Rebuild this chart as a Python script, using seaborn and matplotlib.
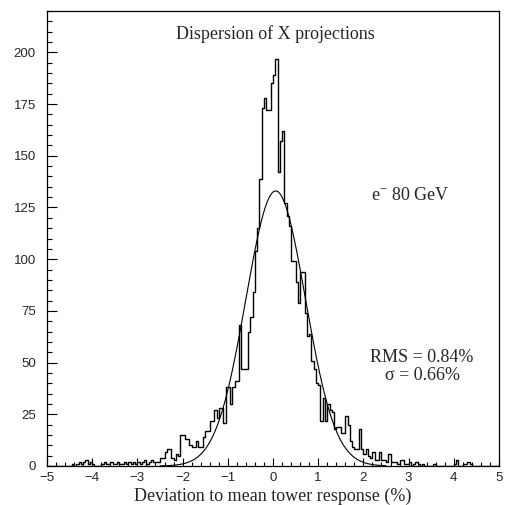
import numpy as np
import pandas as pd
import matplotlib
matplotlib.use("Agg")
import matplotlib.pyplot as plt
import seaborn as sns
from matplotlib.ticker import MultipleLocator

# ---------------- data ----------------
bin_lo = -5.0
bin_hi = 5.0
bin_width = 0.05

tail_left = [0, 0, 0, 0, 0, 0, 0, 0, 0, 0,
             0, 1, 0, 1, 2, 1, 2, 3, 1, 2,
             1, 0, 0, 0, 1, 2, 1, 1, 2, 1,
             1, 2, 1, 1, 2, 1, 2, 1, 2, 1,
             2, 1, 2, 3, 1, 2, 3, 2]
flank_left = [2, 2, 4, 4, 7, 8, 8, 4, 3, 6,
              5, 15, 15, 13, 13, 10, 9, 9, 12, 9,
              9, 14, 17, 17, 22, 22, 27, 23, 28, 28,
              21, 38, 38, 30, 38, 41, 41, 68, 47, 47,
              47, 65, 72, 84, 104, 115]
core = [139, 173, 178, 172, 172, 185, 189, 197, 142, 157, 162, 127]
flank_right = [121, 116, 99, 99, 89, 79, 94, 94, 74, 63, 64, 51, 47, 40]
tail_right = [39, 22, 33, 22, 30, 27, 26, 18, 19, 19,
              16, 16, 24, 20, 12, 9, 8, 8, 18, 8,
              6, 8, 5, 4, 7, 3, 3, 7, 3, 3,
              2, 6, 2, 2, 2, 1, 3, 3, 1, 1,
              2, 0, 1, 2, 1, 0, 1, 0, 0, 0,
              0, 1, 0, 0, 0, 0, 0, 0, 0, 0,
              1, 3, 0, 0, 1, 1, 2, 1, 0, 0,
              0, 0, 0, 0, 0, 0, 0, 0, 0, 0]
counts = tail_left + flank_left + core + flank_right + tail_right

fit_amp = 133.0
fit_mean = 0.06
fit_sigma = 0.66

title_text = "Dispersion of X projections"
beam_text = r"e$^{-}$ 80 GeV"
rms_text = "RMS = 0.84%"
sigma_text = "σ = 0.66%"
xlabel_text = "Deviation to mean tower response (%)"

# ---------------- build ----------------
n_bins = len(counts)
centers = bin_lo + bin_width * (np.arange(n_bins) + 0.5)
hist_df = pd.DataFrame({"x": centers, "w": np.asarray(counts, dtype=float)})

xf = np.linspace(-2.5, 2.5, 400)
fit_df = pd.DataFrame({"x": xf,
                       "y": fit_amp * np.exp(-0.5 * ((xf - fit_mean) / fit_sigma) ** 2)})

sns.set_style("ticks")
plt.rcParams["font.family"] = ["Liberation Serif", "DejaVu Serif"]
plt.rcParams["mathtext.fontset"] = "custom"
plt.rcParams["mathtext.rm"] = "Liberation Serif"
plt.rcParams["mathtext.it"] = "Liberation Serif:italic"

fig = plt.figure(figsize=(5.06, 5.05), dpi=100)
ax = fig.add_axes([47 / 506, 39 / 505, 452 / 506, 455 / 505])

sns.histplot(data=hist_df, x="x", weights="w", binwidth=bin_width,
             binrange=(bin_lo, bin_hi), element="step",
             fill=False, color="black", linewidth=1.0, ax=ax)
sns.lineplot(data=fit_df, x="x", y="y", color="black", linewidth=0.8, ax=ax)

ax.set_xlim(-5, 5)
ax.set_ylim(0, 220)
ax.xaxis.set_major_locator(MultipleLocator(1))
ax.xaxis.set_minor_locator(MultipleLocator(0.2))
ax.yaxis.set_major_locator(MultipleLocator(25))
ax.yaxis.set_minor_locator(MultipleLocator(5))
ax.set_yticks(np.arange(0, 201, 25))
ax.tick_params(axis="both", which="both", direction="in", top=False, right=False,
               color="black", width=0.8)
ax.tick_params(axis="y", which="major", length=7, pad=8)
ax.tick_params(axis="y", which="minor", length=3.5)
ax.tick_params(axis="x", which="major", length=6, pad=4)
ax.tick_params(axis="x", which="minor", length=3)
for lab in ax.get_xticklabels() + ax.get_yticklabels():
    lab.set_fontfamily("Liberation Sans")
    lab.set_fontsize(9.5)
for sp in ax.spines.values():
    sp.set_visible(True)
    sp.set_linewidth(0.9)
    sp.set_color("black")

ax.set_ylabel("")
ax.set_xlabel(xlabel_text, fontsize=13, labelpad=3)

ax.text(0.05, 209, title_text, ha="center", va="center", fontsize=13)
ax.text(3.03, 131, beam_text, ha="center", va="center", fontsize=13)
ax.text(3.3, 52.7, rms_text, ha="center", va="center", fontsize=13)
ax.text(3.3, 44.0, sigma_text, ha="center", va="center", fontsize=13)

fig.savefig("out.png", dpi=100)
